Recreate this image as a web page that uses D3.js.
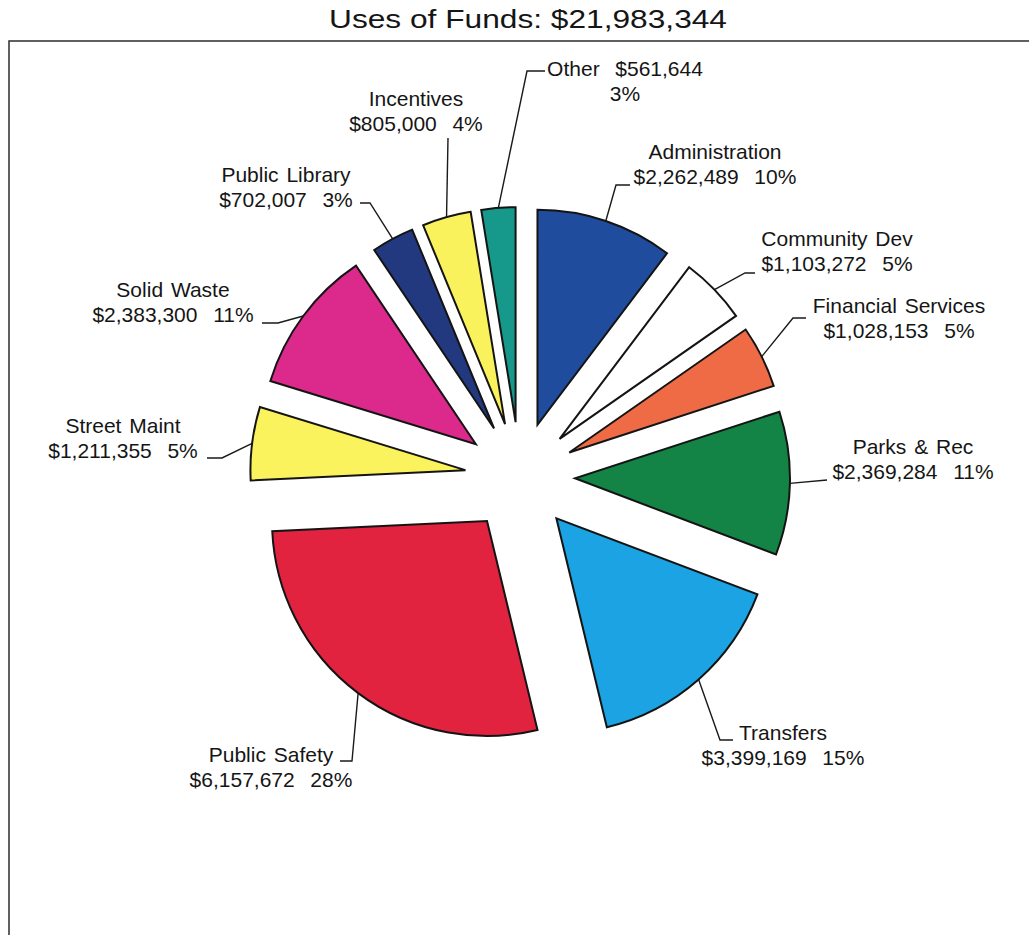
<!DOCTYPE html>
<html>
<head>
<meta charset="utf-8">
<script src="https://cdn.jsdelivr.net/npm/d3@7"></script>
<style>
  html, body { margin: 0; padding: 0; background: #fff; }
  svg { display: block; }
  text { font-family: "Liberation Sans", Arial, sans-serif; fill: #151515; }
</style>
</head>
<body>
<svg id="chart" width="1029" height="935"></svg>
<script>
// Budget categories, in drawing order (clockwise from 12 o'clock)
const categories = [
  "Administration", "Community Dev", "Financial Services", "Parks & Rec",
  "Transfers", "Public Safety", "Street Maint", "Solid Waste",
  "Public Library", "Incentives", "Other"
];
// Dollar amounts for each category
const amounts = [
  2262489, 1103272, 1028153, 2369284, 3399169, 6157672,
  1211355, 2383300, 702007, 805000, 561644
];
// Percent shares as printed on the labels
const percents = [10, 5, 5, 11, 15, 28, 5, 11, 3, 4, 3];
const totalFunds = 21983344;
const sliceColors = [
  "#1f4c9d", "#ffffff", "#ee6b46", "#138446", "#1ba3e3", "#e1233f",
  "#fbf35d", "#db2a8c", "#22387f", "#faf25c", "#16998a"
];

// Label placement: text centre / first baseline, and leader line bends
const labelLayout = [
  { x: 715, y: 159, bend: [[616, 185], [630, 185]] },
  { x: 837, y: 246, bend: [[745, 273], [755, 273]] },
  { x: 899, y: 313, bend: [[793, 318], [806, 318]] },
  { x: 913, y: 454, bend: [[827, 480]] },
  { x: 783, y: 740, bend: [[720, 740], [733, 740]] },
  { x: 271, y: 762, bend: [[352, 761], [340, 761]] },
  { x: 123, y: 433, bend: [[222, 458], [207, 458]] },
  { x: 173, y: 297, bend: [[278, 323], [262, 323]] },
  { x: 286, y: 182, bend: [[370, 203], [360, 203]] },
  { x: 416, y: 106, bend: [[448, 138]] },
  { x: 625, y: 76,  bend: [[527, 71], [545, 71]], inline: true }
];

const svg = d3.select("#chart");
const cx = 520, cy = 477, radius = 215, explode = 55, lineGap = 25;

// Title
svg.append("text")
  .attr("x", 528).attr("y", 28)
  .attr("text-anchor", "middle")
  .attr("font-size", 25)
  .attr("textLength", 398)
  .attr("lengthAdjust", "spacingAndGlyphs")
  .text("Uses of Funds: " + d3.format("$,")(totalFunds));

// Plot frame
svg.append("rect")
  .attr("x", 9).attr("y", 41)
  .attr("width", 1040).attr("height", 920)
  .attr("fill", "none")
  .attr("stroke", "#3a3a3a")
  .attr("stroke-width", 1.6);

const rows = categories.map((c, i) => ({ name: c, value: amounts[i], pct: percents[i], color: sliceColors[i], layout: labelLayout[i] }));

const pie = d3.pie().sort(null).value(d => d.value).startAngle(0).endAngle(2 * Math.PI);
const arc = d3.arc().innerRadius(0).outerRadius(radius);
const arcs = pie(rows);

// Offset of each exploded slice along its bisector
function offset(a) {
  const mid = (a.startAngle + a.endAngle) / 2;
  return [explode * Math.sin(mid), -explode * Math.cos(mid)];
}

const g = svg.append("g").attr("transform", `translate(${cx},${cy})`);

g.selectAll("path.slice")
  .data(arcs)
  .join("path")
  .attr("class", "slice")
  .attr("transform", d => { const o = offset(d); return `translate(${o[0]},${o[1]})`; })
  .attr("d", arc)
  .attr("fill", d => d.data.color)
  .attr("stroke", "#141414")
  .attr("stroke-width", 2)
  .attr("stroke-linejoin", "miter");

// Leader lines from the middle of each outer arc to its label
const fmt = d3.format("$,");
arcs.forEach(d => {
  const mid = (d.startAngle + d.endAngle) / 2;
  const o = offset(d);
  const start = [cx + o[0] + radius * Math.sin(mid), cy + o[1] - radius * Math.cos(mid)];
  const pts = [start].concat(d.data.layout.bend);
  svg.append("path")
    .attr("d", d3.line()(pts))
    .attr("fill", "none")
    .attr("stroke", "#1a1a1a")
    .attr("stroke-width", 1.4);

  const L = d.data.layout;
  const t = svg.append("text")
    .attr("text-anchor", "middle")
    .attr("font-size", 21)
    .style("white-space", "pre")
    .style("word-spacing", "2px");
  const line1 = L.inline ? d.data.name + "  " + fmt(d.data.value) : d.data.name;
  const line2 = L.inline ? d.data.pct + "%" : fmt(d.data.value) + "  " + d.data.pct + "%";
  t.append("tspan").attr("x", L.x).attr("y", L.y).text(line1);
  t.append("tspan").attr("x", L.x).attr("y", L.y + lineGap).text(line2);
});
</script>
</body>
</html>
